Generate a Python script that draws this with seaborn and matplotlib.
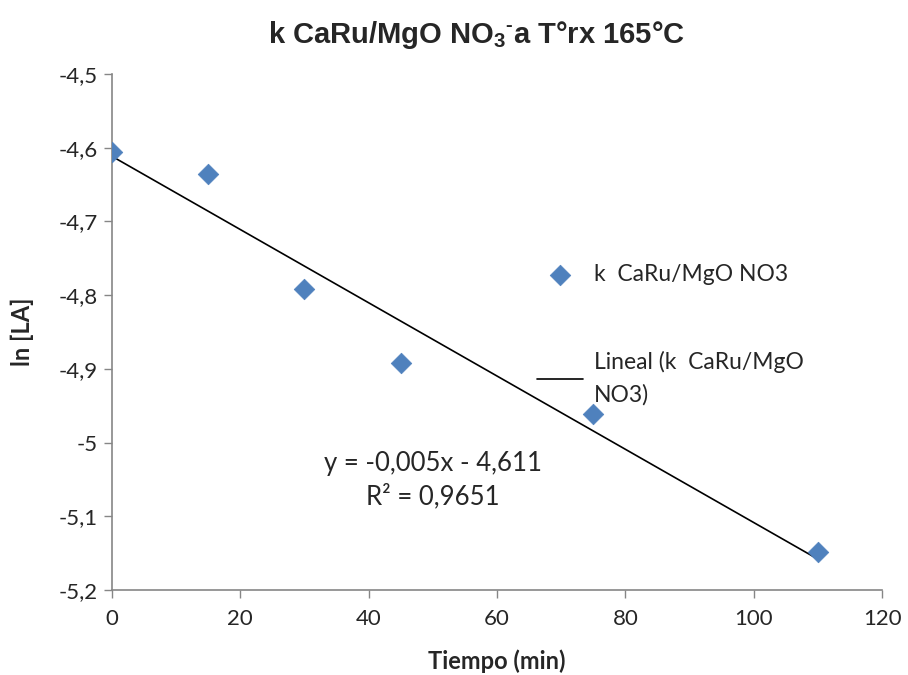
import numpy as np
import pandas as pd
import matplotlib
matplotlib.use("Agg")
import matplotlib.pyplot as plt
import seaborn as sns

# data
tiempo = [0, 15, 30, 45, 75, 110]
ln_la = [-4.606, -4.636, -4.792, -4.892, -4.961, -5.149]
x_ticks = [0, 20, 40, 60, 80, 100, 120]
y_ticks = [-4.5, -4.6, -4.7, -4.8, -4.9, -5.0, -5.1, -5.2]
y_tick_labels = ["-4,5", "-4,6", "-4,7", "-4,8", "-4,9", "-5", "-5,1", "-5,2"]
serie = "k  CaRu/MgO NO3"
ecuacion = "y = -0,005x - 4,611\nR² = 0,9651"

sns.set_style("white")
plt.rcParams["font.family"] = ["Lato", "DejaVu Sans"]
plt.rcParams["mathtext.fontset"] = "custom"
plt.rcParams["mathtext.rm"] = "Liberation Sans:bold"

df = pd.DataFrame({"Tiempo": tiempo, "lnLA": ln_la})

fig = plt.figure(figsize=(9.08, 6.75), dpi=100)
ax = fig.add_axes([0.1233, 0.1259, 0.8481, 0.7645])

blue = "#4F81BD"
grey = "#868686"

sns.scatterplot(data=df, x="Tiempo", y="lnLA", ax=ax, marker="D", s=110,
                color=blue, edgecolor=blue, linewidth=0.5, label=serie, zorder=3)

# linear trendline (least squares on the data)
slope, intercept = np.polyfit(df["Tiempo"], df["lnLA"], 1)
xs = np.array([df["Tiempo"].min(), df["Tiempo"].max()])
ax.plot(xs, slope * xs + intercept, color="black", linewidth=1.2,
        label="Lineal (k  CaRu/MgO\nNO3)", zorder=2)

ax.set_xlim(0, 120)
ax.set_ylim(-5.2, -4.5)
ax.set_xticks(x_ticks)
ax.set_yticks(y_ticks)
ax.set_yticklabels(y_tick_labels)
ax.tick_params(axis="both", direction="out", length=6, width=1, color=grey,
               labelsize=16, bottom=True, left=True, pad=4)
ax.tick_params(axis="x", pad=8)

for side in ["top", "right"]:
    ax.spines[side].set_visible(False)
for side in ["left", "bottom"]:
    ax.spines[side].set_color(grey)
    ax.spines[side].set_linewidth(1.2)

ax.set_xlabel("Tiempo (min)", fontsize=17, fontweight="bold", labelpad=14)
ax.set_ylabel("ln [LA]", fontsize=17, fontweight="bold", labelpad=18)
ax.set_title(r"k CaRu/MgO NO$_3$$^{\text{-}}$a T°rx 165°C", fontsize=21, fontweight="bold",
             family="Liberation Sans", pad=22, x=0.474)

ax.text(50, -5.051, ecuacion, ha="center", va="center", fontsize=18.5, linespacing=1.4)

leg = ax.legend(loc="upper left", bbox_to_anchor=(0.581, 0.623), bbox_transform=fig.transFigure,
                frameon=False, fontsize=16.5, labelspacing=2.9, handlelength=2.0,
                handletextpad=0.48, borderaxespad=0)
for t in leg.get_texts():
    t.set_linespacing(1.6)

fig.savefig("out.png", dpi=100)
